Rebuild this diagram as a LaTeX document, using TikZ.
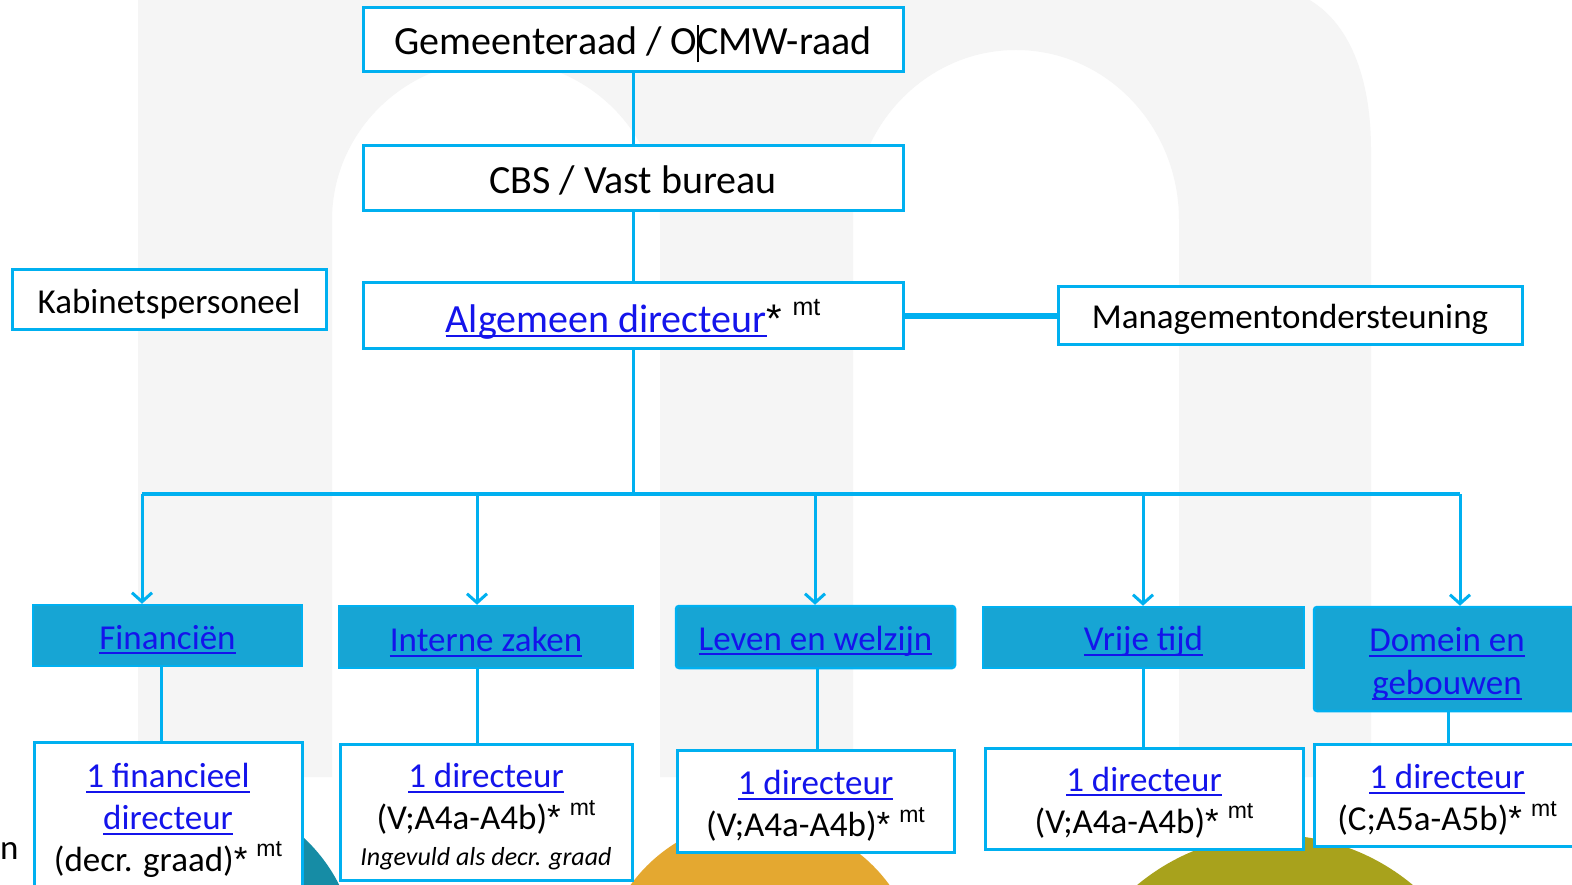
\documentclass[tikz,border=0pt]{standalone}
\usepackage{fontspec}
\setmainfont{Carlito}
\newfontfamily\arialf{Liberation Sans}
\usetikzlibrary{arrows.meta,calc}
\definecolor{cyanb}{RGB}{0,176,240}
\definecolor{deptfill}{RGB}{23,165,212}
\definecolor{linkb}{RGB}{20,20,235}
\definecolor{bggray}{RGB}{245,245,245}
\definecolor{tealc}{RGB}{22,140,165}
\definecolor{orangec}{RGB}{228,168,48}
\definecolor{olivec}{RGB}{168,162,28}
\newcommand{\ulk}[1]{{\color{linkb}\setbox0\hbox{#1}\rlap{\rule[-5pt]{\wd0}{1.8pt}}\box0}}
\newcommand{\astk}{{\arialf*}}
\newcommand{\mtsup}[1][23]{\hspace{0.26em}\raisebox{0.42em}{\arialf\fontsize{#1}{#1}\selectfont mt}}
\tikzset{
  wbox/.style={draw=cyanb, line width=3pt, fill=white, inner sep=0pt},
  dbox/.style={draw=cyanb, line width=2.5pt, fill=deptfill, inner sep=0pt},
  txt/.style={inner sep=0pt, align=center, text=black},
  conn/.style={draw=cyanb, line width=3pt},
  arr/.style={draw=cyanb, line width=3pt, -{Straight Barb[length=9pt,width=20pt]}},
  big/.style={font=\fontsize{40}{48}\selectfont},
  mid/.style={font=\fontsize{35}{42}\selectfont},
  dept/.style={font=\fontsize{35}{43}\selectfont}
}
\begin{document}
\begin{tikzpicture}[x=1pt,y=-1pt]
\useasboundingbox (0,0) rectangle (1572,885);
\begin{scope}
\clip (0,0) rectangle (1572,885);
\fill[white] (0,0) rectangle (1572,885);
% background logo
\fill[bggray] (138,777) -- (138,-5) -- (1300,-5) .. controls (1345,15) and (1371,70) .. (1371,150)
  -- (1371,777) -- (1179,777) -- (1179,220) arc[start angle=0,end angle=-180,x radius=163,y radius=170]
  -- (853,777) -- (660,777) -- (660,220) arc[start angle=0,end angle=-180,x radius=164,y radius=160]
  -- (332,777) -- cycle;
\fill[tealc] (190,960) circle[radius=167];
\fill[orangec] (760,979) circle[radius=160];
\fill[olivec] (1275,1050) circle[radius=215];

% top boxes
\node[wbox, minimum width=540pt, minimum height=64pt] (gem) at (633,40) {};
\node[txt, big] (gemt) at ([yshift=-4pt]gem.center) {Gemeenteraad / O\rlap{\rule[-8pt]{1.2pt}{37pt}}CMW-raad};
\node[wbox, minimum width=540pt, minimum height=65pt] (cbs) at (633,178.5) {};
\node[txt, big] (cbst) at ([yshift=-1.5pt]cbs.center) {CBS / Vast bureau};
\node[wbox, minimum width=540pt, minimum height=66pt] (alg) at (633,316) {};
\node[txt, big] (algt) at ([yshift=-3pt]alg.center) {\ulk{Algemeen directeur}\astk\mtsup[25]};
\node[wbox, minimum width=314pt, minimum height=60pt] (kab) at (169,300) {};
\node[txt, mid] (kabt) at ([yshift=-4pt]kab.center) {Kabinetspersoneel};
\node[wbox, minimum width=464pt, minimum height=58pt] (mgmt) at (1290,316) {};
\node[txt, mid] (mgmtt) at ([yshift=-3pt]mgmt.center) {Managementondersteuning};

\draw[conn] (gem.south) -- (cbs.north);
\draw[conn] (cbs.south) -- (alg.north);
\draw[draw=cyanb, line width=6pt] (alg.east) -- (mgmt.west);

% departments
\node[dbox, minimum width=269pt, minimum height=61pt] (fin) at (167.5,635.5) {};
\node[txt, dept] (fint) at ([yshift=-4pt]fin.center) {\ulk{Financiën}};
\node[dbox, minimum width=294pt, minimum height=62pt] (int) at (486,637) {};
\node[txt, dept] (intt) at ([yshift=-5pt]int.center) {\ulk{Interne zaken}};
\node[dbox, rounded corners=3pt, minimum width=279pt, minimum height=62pt] (lev) at (815.5,637) {};
\node[txt, dept] (levt) at ([yshift=-4pt]lev.center) {\ulk{Leven en welzijn}};
\node[dbox, minimum width=321pt, minimum height=61pt] (vri) at (1143.5,637.5) {};
\node[txt, dept] (vrit) at ([yshift=-4pt]vri.center) {\ulk{Vrije tijd}};
\node[dbox, rounded corners=3pt, minimum width=266pt, minimum height=104pt] (dom) at (1447,659) {};
\node[txt, dept] (domt) at ([yshift=-5pt]dom.center) {\ulk{Domein en}\\\ulk{gebouwen}};

% bus
\coordinate (bus) at (633,494);
\coordinate (b1) at (142,494);
\coordinate (b2) at (477,494);
\coordinate (b3) at (815,494);
\coordinate (b4) at (1143,494);
\coordinate (b5) at (1460,494);
\draw[conn] (alg.south) -- (bus);
\draw[draw=cyanb, line width=4pt, line join=round] (b1) -- (b5);
\draw[arr] (b1) -- (b1 |- fin.north);
\draw[arr] (b2) -- (b2 |- int.north);
\draw[arr] (b3) -- (b3 |- lev.north);
\draw[arr] (b4) -- (b4 |- vri.north);
\draw[arr] (b5) -- (b5 |- dom.north);

% directors
\node[wbox, minimum width=268pt, minimum height=147pt] (d1) at (168,815.5) {};
\node[txt, mid] (d1t) at ([yshift=-5pt]d1.center) {\ulk{1 financieel}\\\ulk{directeur}\\(decr. graad)\astk\mtsup};
\node[wbox, minimum width=292pt, minimum height=136pt] (d2) at (486,812) {};
\node[txt, mid] (d2t) at ([yshift=-5pt]d2.center)
  {\ulk{1 directeur}\\(V;A4a-A4b)\astk\mtsup\\[-6pt]{\itshape\fontsize{26}{30}\selectfont Ingevuld als decr. graad}};
\node[wbox, minimum width=277pt, minimum height=102pt] (d3) at (815.5,801) {};
\node[txt, mid] (d3t) at ([yshift=-5pt]d3.center) {\ulk{1 directeur}\\(V;A4a-A4b)\astk\mtsup};
\node[wbox, minimum width=318pt, minimum height=101pt] (d4) at (1144,798.5) {};
\node[txt, mid] (d4t) at ([yshift=-4pt]d4.center) {\ulk{1 directeur}\\(V;A4a-A4b)\astk\mtsup};
\node[wbox, minimum width=265pt, minimum height=102pt] (d5) at (1447,795) {};
\node[txt, mid] (d5t) at ([yshift=-5pt]d5.center) {\ulk{1 directeur}\\(C;A5a-A5b)\astk\mtsup};

\draw[conn] ([xshift=-6.5pt]fin.south) -- ([xshift=-6.5pt]fin.south |- d1.north);
\draw[conn] ([xshift=-9pt]int.south) -- ([xshift=-9pt]int.south |- d2.north);
\draw[conn] ([xshift=1.5pt]lev.south) -- ([xshift=1.5pt]lev.south |- d3.north);
\draw[conn] (vri.south) -- (vri.south |- d4.north);
\draw[conn] ([xshift=1pt]dom.south) -- ([xshift=1pt]dom.south |- d5.north);

\node[mid, txt, anchor=west] (nfrag) at (0,851) {n};
\end{scope}
\end{tikzpicture}
\end{document}
